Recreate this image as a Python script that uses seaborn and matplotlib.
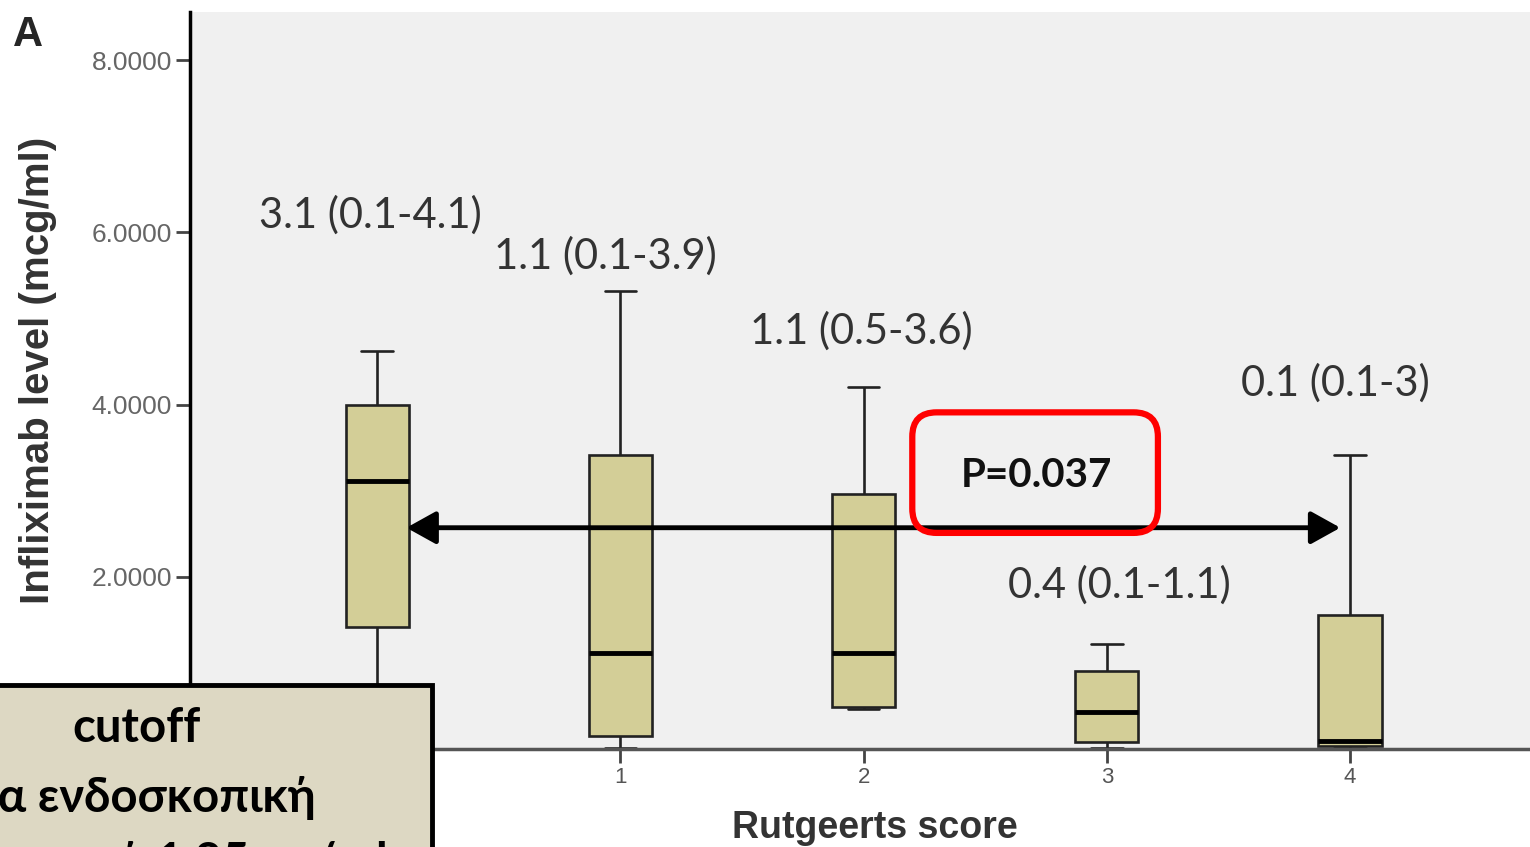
import numpy as np
import pandas as pd
import matplotlib
matplotlib.use('Agg')
import matplotlib.pyplot as plt
from matplotlib.patches import FancyBboxPatch, Rectangle
from matplotlib.ticker import FormatStrFormatter
import seaborn as sns

# Rutgeerts score groups and box summary values
scores = ['0', '1', '2', '3', '4']
whisker_low = [0.10, 0.01, 0.46, 0.01, 0.01]
q1 = [1.42, 0.15, 0.49, 0.08, 0.04]
median = [3.11, 1.11, 1.11, 0.43, 0.09]
q3 = [4.00, 3.41, 2.96, 0.91, 1.56]
whisker_high = [4.62, 5.32, 4.21, 1.22, 3.41]

group_labels = ['3.1 (0.1-4.1)', '1.1 (0.1-3.9)', '1.1 (0.5-3.6)', '0.4 (0.1-1.1)', '0.1 (0.1-3)']
p_text = 'P=0.037'
note_lines = ['cutoff', 'για ενδοσκοπική', 'ύφεση: τιμή 1.85 μg/ml']

# five points per group -> quartiles land exactly on the read values
rows = []
for i, s in enumerate(scores):
    for v in (whisker_low[i], q1[i], median[i], q3[i], whisker_high[i]):
        rows.append({'score': s, 'level': v})
df = pd.DataFrame(rows)

sns.set_style('white')
plt.rcParams['font.family'] = ['Liberation Sans', 'DejaVu Sans']
calib = ['Lato', 'Noto Sans', 'DejaVu Sans']

fig = plt.figure(figsize=(15.3, 8.47), dpi=100)
ax = fig.add_axes([190/1530, 98/847, 1 - 190/1530, 737/847])
ax.set_facecolor('#f0f0f0')

sns.boxplot(data=df, x='score', y='level', order=scores, color='#d3ce97',
            saturation=1, width=0.26, whis=(0, 100), linecolor='#222222',
            linewidth=1.9, medianprops=dict(color='black', linewidth=3.5), ax=ax)

ax.set_xlim(-0.77, 4.74)
ax.set_ylim(0, 8.56)
ax.set_yticks([2, 4, 6, 8])
ax.yaxis.set_major_formatter(FormatStrFormatter('%.4f'))

for side in ['top', 'right']:
    ax.spines[side].set_visible(False)
ax.spines['left'].set_color('black')
ax.spines['left'].set_linewidth(2.5)
ax.spines['bottom'].set_color('#555555')
ax.spines['bottom'].set_linewidth(2.5)
ax.spines['bottom'].set_zorder(5)

ax.tick_params(axis='y', left=True, direction='out', length=10, width=2, color='#444444',
               labelsize=19, labelcolor='#666666', pad=3)
ax.tick_params(axis='x', bottom=True, direction='out', length=10, width=2, color='#444444',
               labelsize=16, labelcolor='#555555', pad=3)

ax.set_xlabel('Rutgeerts score', fontsize=27, fontweight='bold', color='#333333')
ax.xaxis.set_label_coords(0.511, -0.083)
ax.set_ylabel('Infliximab level (mcg/ml)', fontsize=29, fontweight='bold', color='#333333')
ax.yaxis.set_label_coords(-0.099, 0.514)

# median (range) labels above each box
lab_x = [-0.03, 0.94, 1.99, 3.05, 3.94]
lab_y = [6.2, 5.73, 4.86, 1.9, 4.25]
for x, y, t in zip(lab_x, lab_y, group_labels):
    ax.text(x, y, t, ha='center', va='center', fontsize=30, family=calib, color='#333333')

# comparison arrow between score 0 and score 4
ax.annotate('', xy=(3.96, 2.57), xytext=(0.12, 2.57),
            arrowprops=dict(arrowstyle='<|-|>,head_length=0.9,head_width=0.5', lw=3.5,
                            color='black', shrinkA=0, shrinkB=0, mutation_scale=20),
            zorder=4)

box = FancyBboxPatch((2.20, 2.51), 1.01, 1.40, boxstyle='round,pad=0,rounding_size=0.1',
                     mutation_aspect=2.82, fc='none', ec='#ff0000', lw=4.5, zorder=5)
ax.add_patch(box)
ax.text(2.71, 3.18, p_text, ha='center', va='center', fontsize=29, fontweight='bold',
        family=calib, color='#111111', zorder=6)

fig.text(28/1530, 1 - 35/847, 'A', fontsize=30, fontweight='bold', ha='center', va='center')

# overlay note box bottom-left
note = Rectangle((-0.05, -0.05), 0.05 + 432/1530, 0.05 + (847 - 685)/847,
                 transform=fig.transFigure, fc='#ddd8c3', ec='black', lw=3.5, zorder=10)
fig.add_artist(note)
note_y = [1 - 728/847, 1 - 798/847, 1 - 862/847]
for y, t in zip(note_y, note_lines):
    fig.text(137/1530, y, t, ha='center', va='center', fontsize=34, fontweight='bold',
             family=calib, color='black', zorder=11)

fig.savefig('out.png', dpi=100)
